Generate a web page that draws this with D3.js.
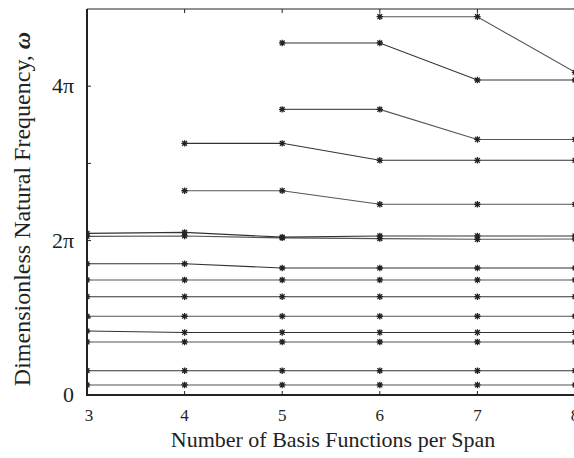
<!DOCTYPE html>
<html>
<head>
<meta charset="utf-8">
<script src="https://cdn.jsdelivr.net/npm/d3@7"></script>
<style>
  body { margin: 0; background: #fff; }
  svg text { font-family: "Liberation Serif", "DejaVu Serif", "Times New Roman", Times, serif; }
</style>
</head>
<body>
<div id="chart"></div>
<script>
// number of basis functions per span (x axis)
var basisCounts = [3, 4, 5, 6, 7, 8];

// natural frequencies in units of pi, one array per mode, null = mode not present
var mode1  = [0.13, 0.13, 0.13, 0.13, 0.13, 0.13];
var mode2  = [0.315, 0.315, 0.315, 0.315, 0.315, 0.315];
var mode3  = [0.687, 0.687, 0.687, 0.687, 0.687, 0.687];
var mode4  = [0.829, 0.81, 0.81, 0.81, 0.81, 0.81];
var mode5  = [1.02, 1.02, 1.02, 1.02, 1.02, 1.02];
var mode6  = [1.273, 1.273, 1.273, 1.273, 1.273, 1.273];
var mode7  = [1.49, 1.49, 1.49, 1.49, 1.49, 1.49];
var mode8  = [1.70, 1.70, 1.645, 1.645, 1.645, 1.645];
var mode9  = [2.055, 2.06, 2.035, 2.025, 2.017, 2.02];
var mode10 = [2.094, 2.107, 2.045, 2.06, 2.06, 2.06];
var mode11 = [null, 2.646, 2.646, 2.47, 2.47, 2.47];
var mode12 = [null, 3.26, 3.26, 3.04, 3.04, 3.04];
var mode13 = [null, null, 3.70, 3.70, 3.31, 3.31];
var mode14 = [null, null, 4.56, 4.56, 4.08, 4.08];
var mode15 = [null, null, null, 4.90, 4.90, 4.18];

var modes = [mode1, mode2, mode3, mode4, mode5, mode6, mode7, mode8,
             mode9, mode10, mode11, mode12, mode13, mode14, mode15];

var yTickValues = [0, 1, 2, 3, 4];      // multiples of pi
var yTickLabels = ["0", "", "2\u03c0", "", "4\u03c0"];

var W = 574, H = 458;
var svg = d3.select("#chart").append("svg")
	.attr("width", W)
	.attr("height", H);

var x = d3.scaleLinear().domain([3, 8]).range([87, 575]);
var y = d3.scaleLinear().domain([0, 5]).range([395, 9]);

// clip for plot area
svg.append("defs").append("clipPath").attr("id", "plotclip")
	.append("rect")
		.attr("x", x(3)).attr("y", y(5))
		.attr("width", x(8) - x(3) + 2).attr("height", y(0) - y(5));

var plot = svg.append("g").attr("clip-path", "url(#plotclip)");

var line = d3.line()
	.defined(function(d) { return d.v !== null; })
	.x(function(d) { return x(d.n); })
	.y(function(d) { return y(d.v); });

modes.forEach(function(m, k) {
	var pts = basisCounts.map(function(n, i) { return {n: n, v: m[i]}; });
	plot.append("path")
		.attr("d", line(pts))
		.attr("fill", "none")
		.attr("stroke", k % 2 ? "#333" : "#555")
		.attr("stroke-width", 1.1);
});

// asterisk markers
var r = 3.2, rd = r * 0.75;
var starPath = "M0," + (-r) + "L0," + r +
	"M" + (-r) + ",0L" + r + ",0" +
	"M" + (-rd) + "," + (-rd) + "L" + rd + "," + rd +
	"M" + (-rd) + "," + rd + "L" + rd + "," + (-rd);

modes.forEach(function(m) {
	basisCounts.forEach(function(n, i) {
		if (m[i] === null) return;
		plot.append("path")
			.attr("d", starPath)
			.attr("transform", "translate(" + x(n) + "," + y(m[i]) + ")")
			.attr("stroke", "#222")
			.attr("stroke-width", 1.3)
			.attr("fill", "none");
	});
});

// frame
svg.append("line")
	.attr("x1", x(3)).attr("x2", W).attr("y1", y(5)).attr("y2", y(5))
	.attr("stroke", "#222").attr("stroke-width", 1);
svg.append("line")
	.attr("x1", x(3)).attr("x2", x(3)).attr("y1", y(5)).attr("y2", y(0) + 1)
	.attr("stroke", "#222").attr("stroke-width", 2);
svg.append("line")
	.attr("x1", x(3) - 1).attr("x2", W).attr("y1", y(0)).attr("y2", y(0))
	.attr("stroke", "#222").attr("stroke-width", 2);

// x ticks (inward, bottom and top)
basisCounts.forEach(function(n) {
	svg.append("line")
		.attr("x1", x(n)).attr("x2", x(n)).attr("y1", y(0)).attr("y2", y(0) - 4)
		.attr("stroke", "#222").attr("stroke-width", 1);
	svg.append("line")
		.attr("x1", x(n)).attr("x2", x(n)).attr("y1", y(5)).attr("y2", y(5) + 4)
		.attr("stroke", "#222").attr("stroke-width", 1);
	svg.append("text")
		.attr("x", x(n) + (n === 3 ? 2 : 0))
		.attr("y", 421)
		.attr("text-anchor", "middle")
		.attr("fill", "#222")
		.style("font-size", "17px")
		.text(n);
});

// y ticks
yTickValues.forEach(function(v, i) {
	svg.append("line")
		.attr("x1", x(3)).attr("x2", x(3) + 4).attr("y1", y(v)).attr("y2", y(v))
		.attr("stroke", "#222").attr("stroke-width", 1);
	if (yTickLabels[i]) {
		svg.append("text")
			.attr("x", 74)
			.attr("y", y(v) + 7)
			.attr("text-anchor", "end")
			.attr("fill", "#222")
			.style("font-size", "22px")
			.text(yTickLabels[i]);
	}
});

// axis titles
svg.append("text")
	.attr("x", 333)
	.attr("y", 447)
	.attr("text-anchor", "middle")
	.attr("fill", "#222")
	.style("font-size", "22px")
	.text("Number of Basis Functions per Span");

var yt = svg.append("text")
	.attr("transform", "translate(30,209) rotate(-90)")
	.attr("text-anchor", "middle")
	.attr("fill", "#222")
	.style("font-size", "24px");
yt.append("tspan").text("Dimensionless Natural Frequency, ");
yt.append("tspan").style("font-style", "italic").style("font-weight", "bold").text("\u03c9");
</script>
</body>
</html>
